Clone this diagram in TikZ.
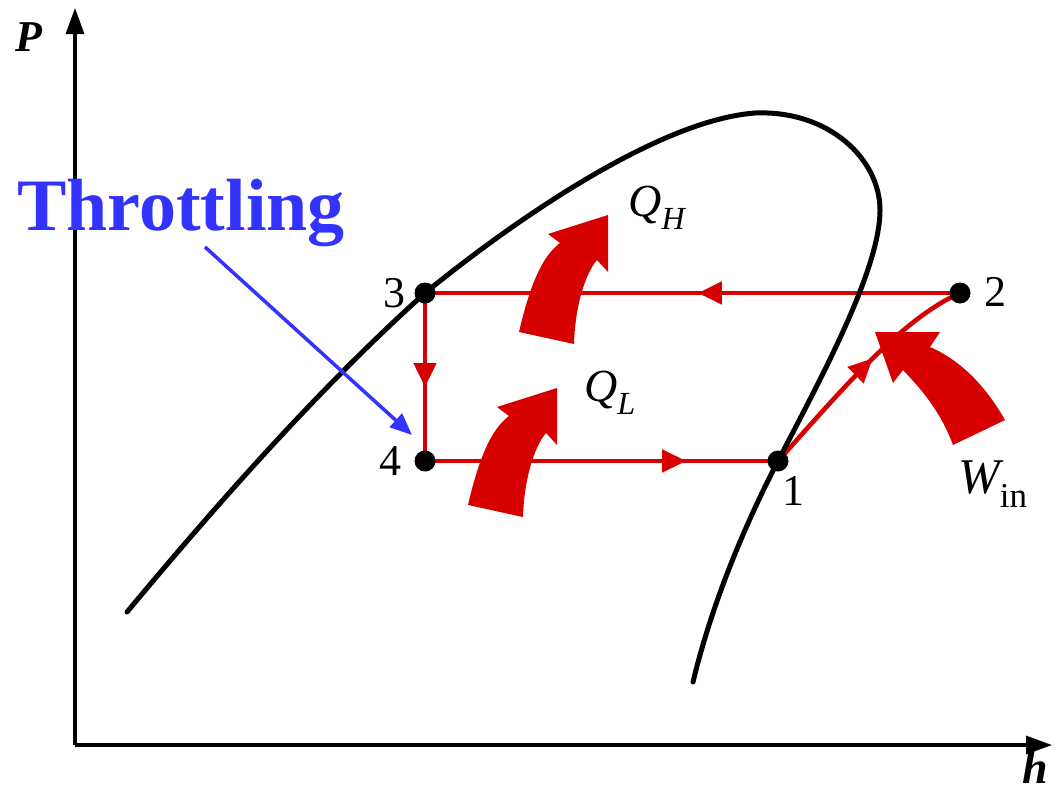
\documentclass[tikz,border=0pt]{standalone}
\usepackage{fontspec}
\setmainfont{Liberation Serif}
\usetikzlibrary{arrows.meta,decorations.markings}
\definecolor{cyred}{RGB}{214,0,0}
\definecolor{thblue}{RGB}{51,51,255}
\tikzset{
  axisline/.style={line width=3.2pt, -{Triangle[length=26pt,width=18pt]}},
  domeline/.style={line width=5pt, line cap=round},
  cycleline/.style={cyred, line width=4.6pt},
  midarrow/.style={postaction={decorate}, decoration={markings, mark=at position #1 with {\arrow{Triangle[length=24pt,width=22pt]}}}},
  statedot/.style={circle, fill=black, inner sep=0pt, minimum size=21pt},
  numlbl/.style={font=\fontsize{44}{44}\selectfont, inner sep=0pt},
  qlbl/.style={font=\fontsize{46}{46}\selectfont\itshape, inner sep=0pt},
  heatfill/.style={fill=cyred, draw=none},
  heatarr/.pic={\fill[heatfill] (468,505) .. controls (478,462) and (490,430) .. (509,416) -- (497,407) -- (557,388) -- (557,445) -- (546,433) .. controls (534,447) and (524,480) .. (523,517) -- cycle;},
}
\begin{document}
\begin{tikzpicture}[x=1pt,y=-1pt]
\useasboundingbox (0,0) rectangle (1059,798);
\fill[white] (0,0) rectangle (1059,798);
% axes
\coordinate (origin) at (75,745);
\coordinate (ytip) at (75,8);
\coordinate (xtip) at (1052,745);
\draw[axisline] (origin) -- (ytip);
\draw[axisline] (origin) -- (xtip);
\node[font=\fontsize{44}{44}\selectfont\bfseries\itshape, inner sep=0pt] (plabel) at (29,37) {P};
\node[font=\fontsize{46}{46}\selectfont\bfseries\itshape, inner sep=0pt] (hlabel) at (1035,768) {h};
% states
\coordinate (s1) at (778,461);
\coordinate (s2) at (960,293);
\coordinate (s3) at (425,293);
\coordinate (s4) at (425,461);
% cycle
\draw[cycleline, midarrow=0.49] (s2) -- (s3);
\draw[cycleline, midarrow=0.56] (s3) -- (s4);
\draw[cycleline, midarrow=0.74] (s4) -- (s1);
\draw[cycleline, midarrow=0.56] (s1) .. controls (840,392) and (900,320) .. (s2);
% heat / work arrows
\pic at (0,0) {heatarr};
\pic at (51,-173) {heatarr};
\fill[heatfill] (1005,420) .. controls (985,385) and (960,360) .. (930,347) -- (940,332) -- (875,332) -- (893,383) -- (903,370) .. controls (920,388) and (940,410) .. (953,445) -- cycle;
% dome
\draw[domeline] (127,612) .. controls (227,492) and (325,383) .. (s3)
  .. controls (517,218) and (660,120) .. (755,113)
  .. controls (830,110) and (880,160) .. (880,210)
  .. controls (880,270) and (820,380) .. (s1)
  .. controls (755,505) and (715,590) .. (693,682);
% dots
\node[statedot] (p1) at (s1) {};
\node[statedot] (p2) at (s2) {};
\node[statedot] (p3) at (s3) {};
\node[statedot] (p4) at (s4) {};
\node[numlbl] (l3) at (394,293) {3};
\node[numlbl] (l4) at (390,461) {4};
\node[numlbl] (l2) at (995,292) {2};
\node[numlbl] (l1) at (793,491) {1};
\node[qlbl] (qh) at (657,208) {Q\textsubscript{H}};
\node[qlbl] (ql) at (610,393) {Q\textsubscript{L}};
\node[font=\fontsize{50}{50}\selectfont\itshape, inner sep=0pt] (win) at (993,484) {W\textsubscript{\upshape in}};
% throttling
\node[font=\fontsize{74}{74}\selectfont\bfseries, text=thblue, inner sep=0pt, anchor=base west] (throt) at (17,230) {Throttling};
\coordinate (thstart) at (205,247);
\coordinate (thend) at (412,435);
\draw[thblue, line width=3.5pt, -{Triangle[length=22pt,width=18pt]}] (thstart) -- (thend);
\end{tikzpicture}
\end{document}
